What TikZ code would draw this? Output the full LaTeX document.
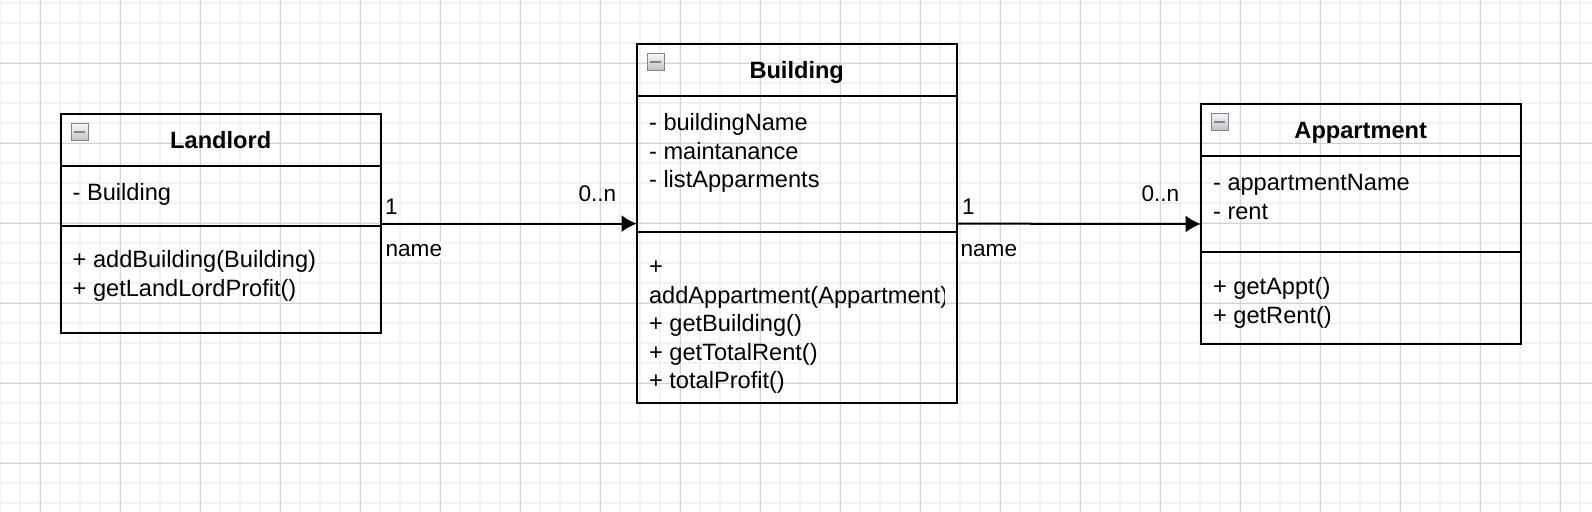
\documentclass[tikz,border=0pt]{standalone}
\usepackage{fontspec}
\setmainfont{Liberation Sans}
\usetikzlibrary{arrows.meta}

\definecolor{gridminor}{HTML}{F1F1F1}
\definecolor{gridmajor}{HTML}{D2D2D2}
\definecolor{iconedge}{HTML}{7E8494}

\tikzset{
  classbox/.style={draw, line width=1pt, inner sep=0pt, outer sep=0pt,
    minimum width=160pt, anchor=north west},
  classline/.style={line width=1pt},
  classtitle/.style={font=\fontsize{11.8}{14}\selectfont\bfseries, inner sep=0pt, anchor=base},
  member/.style={font=\fontsize{11.8}{14}\selectfont, inner sep=0pt, anchor=base west},
  mult/.style={font=\fontsize{11.3}{13}\selectfont, inner sep=0pt},
  collapse/.style={draw=iconedge, line width=0.6pt, top color=gray!5, bottom color=gray!50,
    minimum size=8.5pt, inner sep=0pt, anchor=north west,
    path picture={\draw[line width=1.3pt] ([xshift=1.5pt]path picture bounding box.west)
      -- ([xshift=-1.5pt]path picture bounding box.east);}},
  assoc/.style={line width=1pt, -{Latex[length=7.5pt,width=8.5pt]}},
}

\begin{document}
\begin{tikzpicture}[x=0.5pt, y=-0.5pt]
  \useasboundingbox (0,0) rectangle (1592,512);
  \fill[white] (0,0) rectangle (1592,512);
  % grid
  \foreach \gx in {0,20,...,1580}
    \draw[gridminor, line width=1pt] (\gx,0) -- (\gx,512);
  \foreach \gy in {3.3,23.3,...,503.3}
    \draw[gridminor, line width=1pt] (0,\gy) -- (1592,\gy);
  \foreach \gx in {40,120,...,1560}
    \draw[gridmajor, line width=0.5pt] (\gx,0) -- (\gx,512);
  \foreach \gy in {63.3,143.3,...,463.3}
    \draw[gridmajor, line width=0.5pt] (0,\gy) -- (1592,\gy);

  % classes
  \node[classbox, minimum height=109.65pt] (landlord) at (60.7,114) {};
  \node[classbox, minimum height=179.65pt] (building) at (636.7,44) {};
  \node[classbox, minimum height=120pt] (appartment) at (1200.7,104) {};

  \draw[classline] (landlord.north west) ++(0,51.7) -- ++(320,0);
  \draw[classline] (landlord.north west) ++(0,112) -- ++(320,0);
  \draw[classline] (building.north west) ++(0,51.7) -- ++(320,0);
  \draw[classline] (building.north west) ++(0,187.7) -- ++(320,0);
  \draw[classline] (appartment.north west) ++(0,51.7) -- ++(320,0);
  \draw[classline] (appartment.north west) ++(0,148) -- ++(320,0);

  \node[collapse] (landlord-icon) at ([shift={(10,9)}]landlord.north west) {};
  \node[collapse] (building-icon) at ([shift={(10,9)}]building.north west) {};
  \node[collapse] (appartment-icon) at ([shift={(10,9)}]appartment.north west) {};

  \node[classtitle] (landlord-title) at ([shift={(0,35)}]landlord.north) {Landlord};
  \node[classtitle] (building-title) at ([shift={(0,35)}]building.north) {Building};
  \node[classtitle] (appartment-title) at ([shift={(0,35)}]appartment.north) {Appartment};

  % members
  \foreach \txt [count=\i] in {- Building}
    \node[member] (landlord-attr-\i) at ([shift={(11.6,86.7+28.5*\i-28.5)}]landlord.north west) {\txt};
  \foreach \txt [count=\i] in {+ addBuilding(Building), + getLandLordProfit()}
    \node[member] (landlord-op-\i) at ([shift={(11.6,154+28.5*\i-28.5)}]landlord.north west) {\txt};

  \foreach \txt [count=\i] in {- buildingName, - maintanance, - listApparments}
    \node[member] (building-attr-\i) at ([shift={(12,86.7+28.5*\i-28.5)}]building.north west) {\txt};
  \begin{scope}
    \clip (building.north west) rectangle (944.5,403.3);
    \foreach \txt [count=\i] in {+, addAppartment(Appartment), + getBuilding(), + getTotalRent(), + totalProfit()}
      \node[member] (building-op-\i) at ([shift={(12,231+28.5*\i-28.5)}]building.north west) {\txt};
  \end{scope}

  \foreach \txt [count=\i] in {- appartmentName, - rent}
    \node[member] (appartment-attr-\i) at ([shift={(12,86.7+28.5*\i-28.5)}]appartment.north west) {\txt};
  \foreach \txt [count=\i] in {+ getAppt(), + getRent()}
    \node[member] (appartment-op-\i) at ([shift={(12,191+28.5*\i-28.5)}]appartment.north west) {\txt};

  % associations
  \draw[assoc] (landlord.east) -- (building.west);
  \draw[assoc] (building.east) -- (appartment.west);

  \node[mult, anchor=base west] (landlord-one) at ([shift={(4,-9)}]landlord.east) {1};
  \node[mult, anchor=base east] (landlord-many) at ([shift={(-20,-22)}]building.west) {0..n};
  \node[mult, anchor=base west, fill=white, inner sep=1pt] (landlord-name) at ([shift={(2.5,33)}]landlord.east) {name};

  \node[mult, anchor=base west] (building-one) at ([shift={(5,-9)}]building.east) {1};
  \node[mult, anchor=base east] (building-many) at ([shift={(-21,-22)}]appartment.west) {0..n};
  \node[mult, anchor=base west, fill=white, inner sep=1pt] (building-name) at ([shift={(1.5,33)}]building.east) {name};
\end{tikzpicture}
\end{document}
